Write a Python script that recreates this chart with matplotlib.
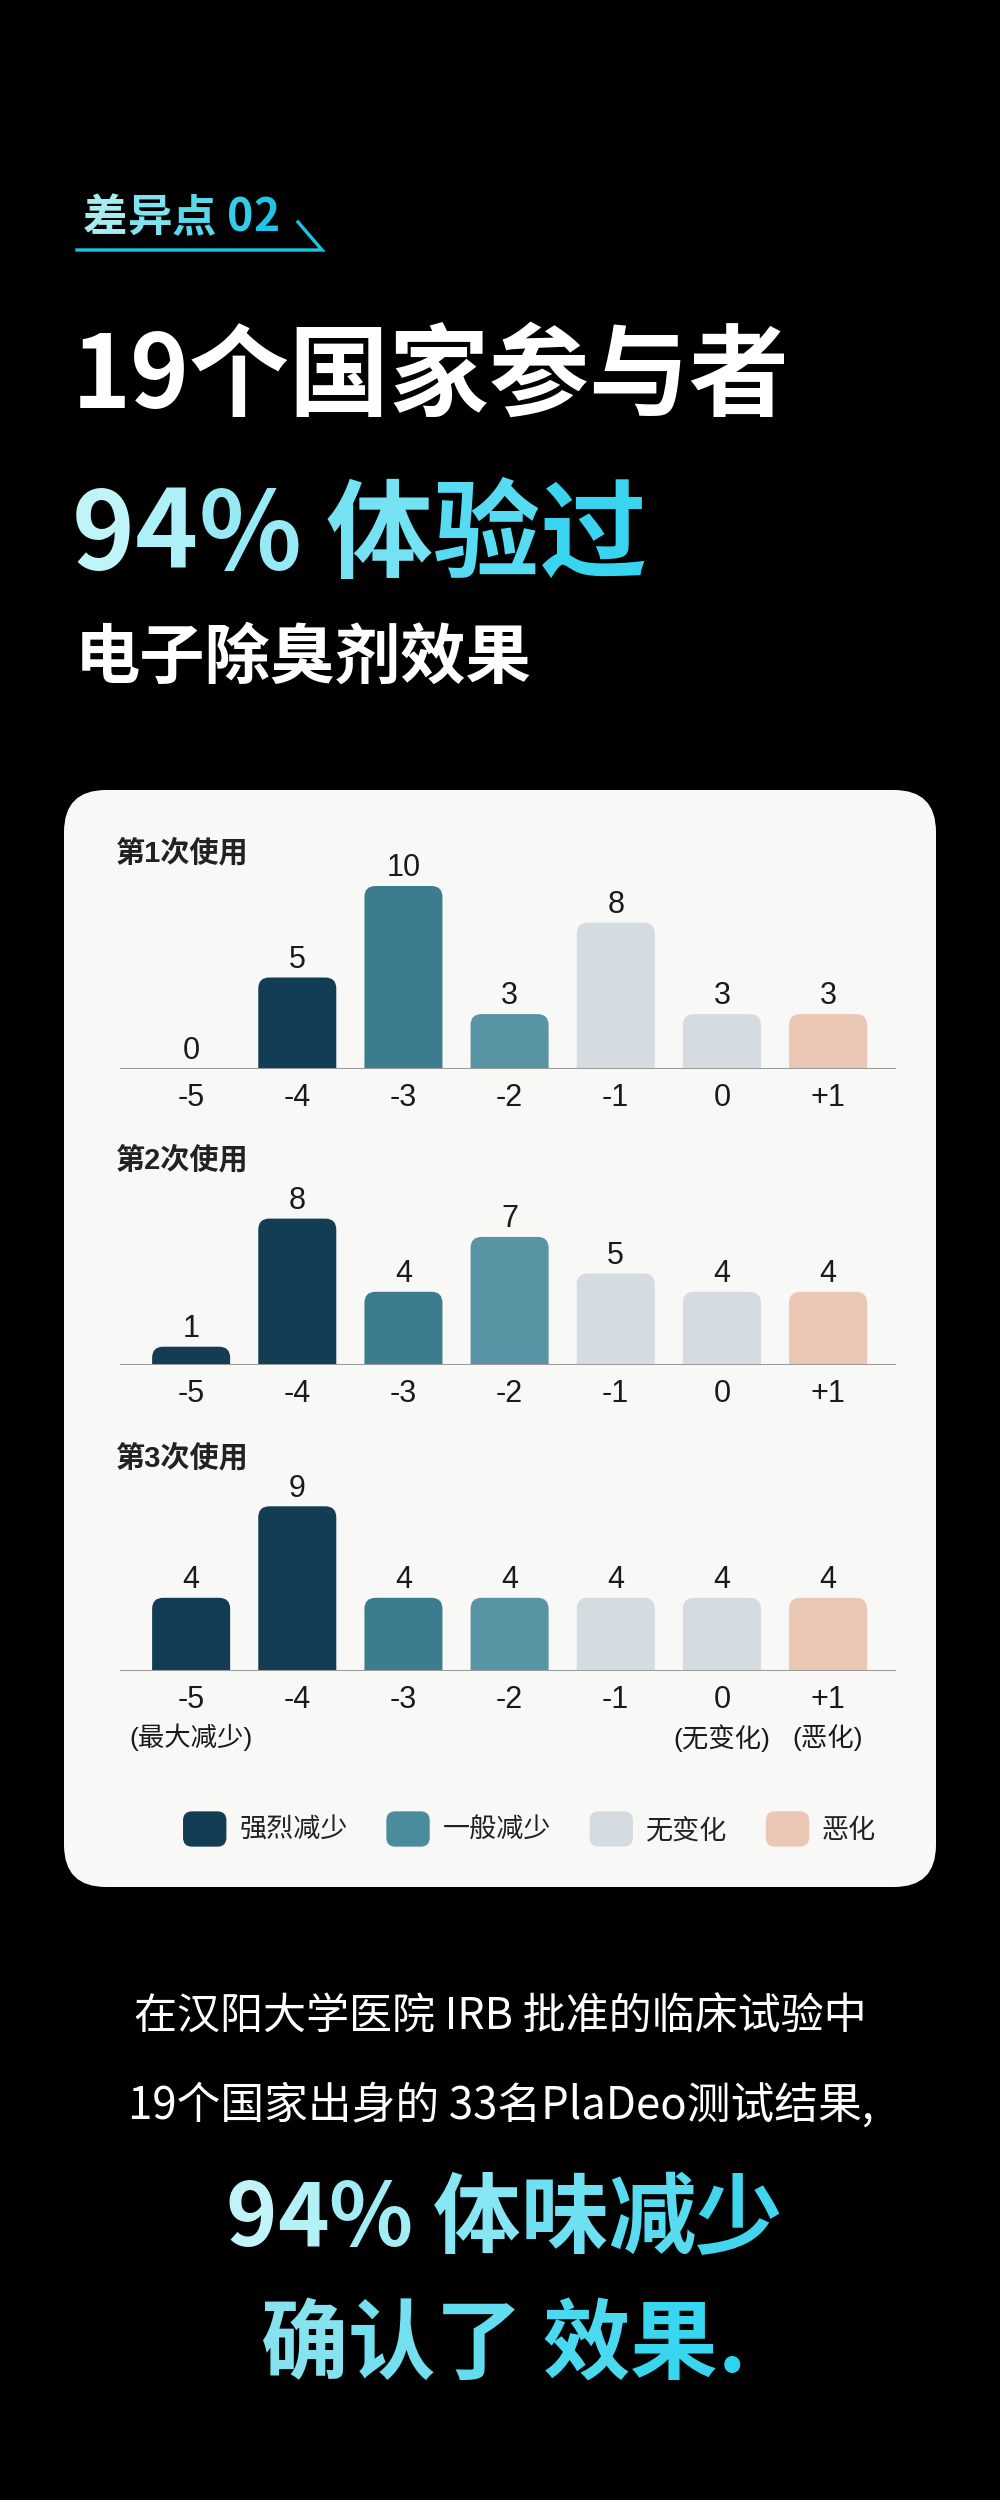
import numpy as np
import matplotlib
matplotlib.use("Agg")
import matplotlib.pyplot as plt
from matplotlib.patches import FancyBboxPatch, Patch
from matplotlib.legend_handler import HandlerPatch
from matplotlib.colors import to_rgb

CJK = "Noto Sans CJK SC"
plt.rcParams["font.family"] = ["Liberation Sans", CJK, "DejaVu Sans"]

# ---- data ----
scores = ["-5", "-4", "-3", "-2", "-1", "0", "+1"]
use1 = [0, 5, 10, 3, 8, 3, 3]
use2 = [1, 8, 4, 7, 5, 4, 4]
use3 = [4, 9, 4, 4, 4, 4, 4]
panel_titles = ["第1次使用", "第2次使用", "第3次使用"]
groups = ["强烈减少", "一般减少", "无变化", "恶化"]
sub_labels = {0: "(最大减少)", 5: "(无变化)", 6: "(恶化)"}

bar_colors = ["#133d54", "#133d54", "#3b7d8f", "#5894a3", "#d5dce1", "#d5dce1", "#ebc7b6"]
group_colors = ["#133d54", "#4b8c9c", "#d5dce1", "#ebc7b6"]

fig = plt.figure(figsize=(10, 25), dpi=100, facecolor="black")
bg = fig.add_axes([0, 0, 1, 1])
bg.set_xlim(0, 1000)
bg.set_ylim(2500, 0)
bg.axis("off")
r = fig.canvas.get_renderer()


def measure(s, **kw):
    t = bg.text(0, 0, s, **kw)
    w = t.get_window_extent(renderer=r).width
    t.remove()
    return w


def grad_text(x, y, s, size, c0, c1, ha="left"):
    # per-character colour gradient, left -> right
    kw = dict(fontsize=size, family=[CJK, "DejaVu Sans"], weight="bold")
    base = measure("||", **kw)
    widths = [measure("|" + ch + "|", **kw) - base for ch in s]
    total = sum(widths)
    x0 = x - total / 2 if ha == "center" else x
    a, b = np.array(to_rgb(c0)), np.array(to_rgb(c1))
    cx = x0
    for ch, w in zip(s, widths):
        t = (cx + w / 2 - x0) / total
        t = min(max(t, 0), 1)
        bg.text(cx, y, ch, color=tuple(a + (b - a) * t), va="baseline", ha="left", **kw)
        cx += w


# ---- header ----
grad_text(83, 231, "差异点 02", 32, "#b9f2f3", "#14c2e6")
bg.plot([77, 322, 298], [250, 250, 222], color="#1cc3e3", lw=2.4, solid_joinstyle="miter")

bg.text(72, 378, "19个国家参与者", fontsize=72, color="white", weight="bold",
        family=[CJK, "DejaVu Sans"], va="center", ha="left")
grad_text(72, 569, "94% 体验过", 77, "#c8f6f8", "#2ad0ef")
bg.text(75, 658, "电子除臭剂效果", fontsize=47, color="white", weight="bold",
        family=[CJK, "DejaVu Sans"], va="center", ha="left")

# ---- card ----
bg.add_patch(FancyBboxPatch((64, 790), 872, 1097, boxstyle="round,pad=0,rounding_size=42",
                            fc="#f8f8f6", ec="none"))

# ---- panels ----
x = np.arange(len(scores))
baselines = [1069, 1365, 1671]
title_y = [853, 1160, 1458]
px_per_unit = 18.3
ytop = 11
for k, (vals, base_px) in enumerate(zip([use1, use2, use3], baselines)):
    h_px = ytop * px_per_unit
    ax = fig.add_axes([120 / 1000, (2500 - base_px) / 2500, 776 / 1000, h_px / 2500])
    ax.set_facecolor("none")
    bars = ax.bar(x, vals, width=0.735, color=bar_colors)
    ax.set_xlim(-0.67, 6.64)
    ax.set_ylim(0, ytop)
    unit_x = 776 / 7.31
    rx = 11 / unit_x
    ry = 11 / px_per_unit
    for rect, c in zip(bars, bar_colors):
        h = rect.get_height()
        if h > 0:
            ax.add_patch(FancyBboxPatch((rect.get_x(), -2), rect.get_width(), h + 2,
                                        boxstyle=f"round,pad=0,rounding_size={rx}",
                                        mutation_aspect=ry / rx, fc=c, ec="none", zorder=2))
        rect.set_visible(False)
    ax.axhline(0, color="#9a9a9a", lw=2.2, zorder=3)
    for i, v in enumerate(vals):
        ax.annotate(str(v), (i, v), xytext=(0, 2), textcoords="offset points",
                    ha="center", va="bottom", fontsize=22, color="#1a1a1a")
    ax.set_xticks(x, scores)
    ax.set_yticks([])
    ax.tick_params(axis="x", length=0, pad=10, labelsize=22, labelcolor="#1a1a1a")
    for s in ax.spines.values():
        s.set_visible(False)
    if k == 2:
        for i, lab in sub_labels.items():
            ax.annotate(lab, (i, 0), xytext=(0, -48), textcoords="offset points",
                        ha="center", va="center", fontsize=19, color="#1a1a1a")
    bg.text(116, title_y[k], panel_titles[k], fontsize=21, weight="bold", color="#222222",
            va="center", ha="left")

# ---- legend ----
def rounded(legend, orig_handle, xdescent, ydescent, width, height, fontsize):
    return FancyBboxPatch((-xdescent, -ydescent), width, height,
                          boxstyle="round,pad=0,rounding_size=6")


handles = [Patch(color=c) for c in group_colors]
leg = bg.legend(handles, groups, loc="center", bbox_to_anchor=(530, 1829),
                bbox_transform=bg.transData, ncol=4, frameon=False, fontsize=19.5,
                handlelength=1.55, handleheight=1.55, handletextpad=0.5, columnspacing=1.45,
                handler_map={Patch: HandlerPatch(patch_func=rounded)})
for t in leg.get_texts():
    t.set_color("#222222")

# ---- footer ----
bg.text(500, 2018, "在汉阳大学医院 IRB 批准的临床试验中", fontsize=31, color="white",
        family=[CJK, "DejaVu Sans"], ha="center", va="center")
bg.text(501, 2106, "19个国家出身的 33名PlaDeo测试结果,", fontsize=31.5, color="white",
        family=[CJK, "DejaVu Sans"], ha="center", va="center")
grad_text(504, 2246, "94% 体味减少", 63, "#c8f6f8", "#36d2ee", ha="center")
grad_text(503, 2372, "确认了 效果.", 63, "#8fe4ee", "#2ad3ef", ha="center")

bg.set_xlim(0, 1000)
bg.set_ylim(2500, 0)
fig.savefig("out.png", dpi=100, facecolor="black")
